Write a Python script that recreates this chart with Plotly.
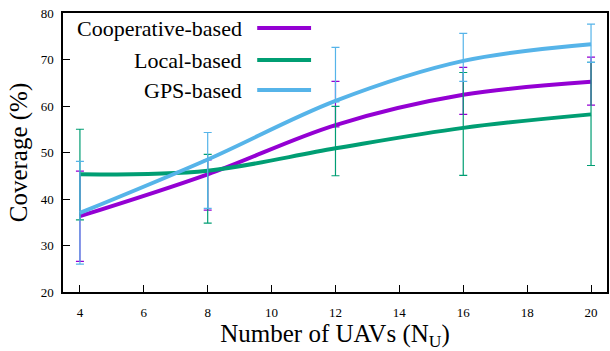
import plotly.graph_objects as go

# ---- data ----
x_uavs = [4, 8, 12, 16, 20]
series_names = ["Cooperative-based", "Local-based", "GPS-based"]
coop = [36.3, 45.3, 55.9, 62.4, 65.2]
local = [45.3, 46.1, 50.9, 55.3, 58.2]
gps = [37.0, 48.5, 61.1, 69.7, 73.3]

coop_low = [26.6, 37.6, 55.5, 58.2, 60.2]
coop_high = [46.0, 48.4, 65.3, 68.3, 70.5]
local_low = [35.5, 34.8, 45.0, 45.1, 47.2]
local_high = [55.0, 49.6, 59.9, 67.2, 69.4]
gps_low = [26.0, 38.0, 60.9, 65.3, 69.4]
gps_high = [48.1, 54.3, 72.6, 75.6, 77.6]

x_ticks = [4, 6, 8, 10, 12, 14, 16, 18, 20]
y_ticks = [20, 30, 40, 50, 60, 70, 80]

colors = ["#9400D3", "#009E73", "#56B4E9"]
FONT = "Liberation Serif"

fig = go.Figure()
all_series = [(coop, coop_low, coop_high), (local, local_low, local_high), (gps, gps_low, gps_high)]
for name, (ys, lo, hi), c in zip(series_names, all_series, colors):
    fig.add_trace(go.Scatter(
        x=x_uavs, y=ys, name=name, mode="lines",
        line=dict(color=c, width=4, shape="spline", smoothing=1.0),
        error_y=dict(type="data", symmetric=False,
                     array=[h - y for h, y in zip(hi, ys)],
                     arrayminus=[y - l for y, l in zip(ys, lo)],
                     color=c, thickness=1.2, width=4),
        showlegend=False,
    ))

# legend drawn gnuplot-style: right-aligned text with sample line to its right
leg_y = [0.946, 0.8315, 0.724]
for name, c, ly in zip(series_names, colors, leg_y):
    fig.add_annotation(xref="paper", yref="paper", x=0.3333, y=ly, text=name,
                       showarrow=False, xanchor="right", yanchor="middle",
                       font=dict(family=FONT, size=22, color="black"))
    fig.add_shape(type="line", xref="paper", yref="paper", x0=0.357, x1=0.456,
                  y0=ly, y1=ly, line=dict(color=c, width=4))

fig.update_layout(
    width=610, height=351,
    margin=dict(l=63, r=1, t=13, b=59),
    plot_bgcolor="white", paper_bgcolor="white",
    font=dict(family=FONT, color="black"),
)
fig.update_xaxes(
    range=[3.47, 20.5], tickvals=x_ticks, ticks="inside", ticklen=7, tickwidth=1,
    tickcolor="black", showline=True, linecolor="black", linewidth=1.5, mirror=True,
    showgrid=False, zeroline=False, tickfont=dict(family=FONT, size=13),
    ticklabelstandoff=8,
    title=dict(text="Number of UAVs (N<sub>U</sub>)", font=dict(family=FONT, size=25), standoff=8),
)
fig.update_yaxes(
    range=[20, 80], tickvals=y_ticks, ticks="inside", ticklen=7, tickwidth=1,
    tickcolor="black", showline=True, linecolor="black", linewidth=1.5, mirror=True,
    showgrid=False, zeroline=False, tickfont=dict(family=FONT, size=13),
    ticklabelstandoff=5,
    title=dict(text="Coverage (%)", font=dict(family=FONT, size=25), standoff=6),
)

fig.write_html("out.html")
